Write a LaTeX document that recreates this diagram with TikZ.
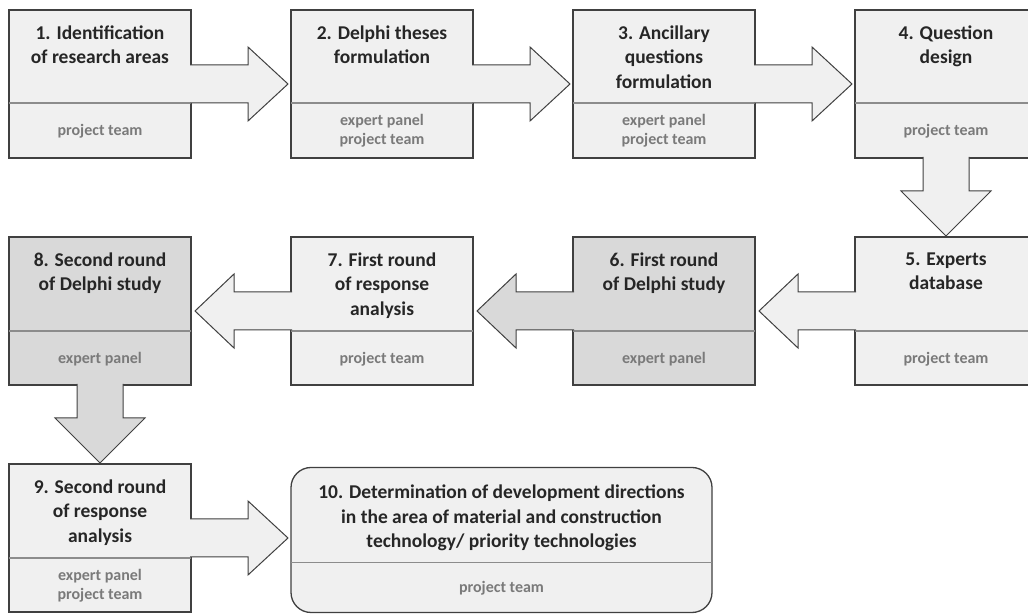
\documentclass[tikz,border=0pt]{standalone}
\usepackage{fontspec}
\setmainfont{Carlito}
\usetikzlibrary{positioning, calc}
\definecolor{stagelight}{HTML}{F0F0F0}
\definecolor{stagedark}{HTML}{D9D9D9}
\definecolor{edge}{HTML}{404040}
\definecolor{rule}{HTML}{8C8C8C}
\definecolor{teamgray}{HTML}{7A7A7A}

\begin{document}
\begin{tikzpicture}[x=1pt, y=1pt,
  stage/.style={rectangle, draw=edge, line width=1.3pt, fill=stagelight, minimum width=182pt, minimum height=148pt, inner sep=0pt, outer sep=0pt},
  darkstage/.style={stage, fill=stagedark},
  title/.style={anchor=north, align=center, font=\fontsize{19.5}{24.5}\selectfont\bfseries, text=black!85, inner sep=0pt, execute at begin node={\rule{0pt}{14pt}}},
  team/.style={align=center, font=\fontsize{16}{19}\selectfont\bfseries, text=teamgray, inner sep=0pt},
  split/.style={draw=rule, line width=1.3pt},
  flow/.style={fill=stagelight, draw=edge, line width=1pt, line join=miter},
  darkflow/.style={flow, fill=stagedark},
  node distance=79pt and 100pt]

\useasboundingbox (0,0) rectangle (1028,615);
\clip (0,0) rectangle (1028,615);

% Stages
\node[stage] (s1) at (100,531) {};
\node[stage, right=of s1] (s2) {};
\node[stage, right=of s2] (s3) {};
\node[stage, right=of s3] (s4) {};
\node[stage, below=of s4] (s5) {};
\node[darkstage, left=of s5] (s6) {};
\node[stage, left=of s6] (s7) {};
\node[darkstage, left=of s7] (s8) {};
\node[stage, below=of s8] (s9) {};
\node[stage, rounded corners=20pt, minimum width=421pt, minimum height=145pt, right=of s9, yshift=-2pt] (s10) {};

% Dividers
\draw[split] ([yshift=-93pt]s1.north west) -- ([yshift=-93pt]s1.north east);
\draw[split] ([yshift=-93pt]s2.north west) -- ([yshift=-93pt]s2.north east);
\draw[split] ([yshift=-93pt]s3.north west) -- ([yshift=-93pt]s3.north east);
\draw[split] ([yshift=-93pt]s4.north west) -- ([yshift=-93pt]s4.north east);
\draw[split] ([yshift=-94pt]s5.north west) -- ([yshift=-94pt]s5.north east);
\draw[split] ([yshift=-94pt]s6.north west) -- ([yshift=-94pt]s6.north east);
\draw[split] ([yshift=-94pt]s7.north west) -- ([yshift=-94pt]s7.north east);
\draw[split] ([yshift=-94pt]s8.north west) -- ([yshift=-94pt]s8.north east);
\draw[split] ([yshift=-94pt]s9.north west) -- ([yshift=-94pt]s9.north east);
\draw[split] ([yshift=-95pt]s10.north west) -- ([yshift=-95pt]s10.north east);

% Titles
\node[title] (t1) at ([yshift=-15.5pt]s1.north) {1. Identification\\of research areas};
\node[title] (t2) at ([yshift=-15.5pt]s2.north) {2. Delphi theses\\formulation};
\node[title] (t3) at ([yshift=-15.5pt]s3.north) {3. Ancillary\\questions\\formulation};
\node[title] (t4) at ([yshift=-15.5pt]s4.north) {4. Question\\design};
\node[title] (t5) at ([yshift=-15.5pt]s5.north) {5. Experts\\database};
\node[title] (t6) at ([yshift=-15.5pt]s6.north) {6. First round\\of Delphi study};
\node[title] (t7) at ([yshift=-15.5pt]s7.north) {7. First round\\of response\\analysis};
\node[title] (t8) at ([yshift=-15.5pt]s8.north) {8. Second round\\of Delphi study};
\node[title] (t9) at ([yshift=-15.5pt]s9.north) {9. Second round\\of response\\analysis};
\node[title] (t10) at ([yshift=-17.5pt]s10.north) {10. Determination of development directions\\in the area of material and construction\\technology/ priority technologies};

% Teams
\node[team] (p1) at ([yshift=27pt]s1.south) {project team};
\node[team] (p2) at ([yshift=27pt]s2.south) {expert panel\\project team};
\node[team] (p3) at ([yshift=27pt]s3.south) {expert panel\\project team};
\node[team] (p4) at ([yshift=27pt]s4.south) {project team};
\node[team] (p5) at ([yshift=26pt]s5.south) {project team};
\node[team] (p6) at ([yshift=26pt]s6.south) {expert panel};
\node[team] (p7) at ([yshift=26pt]s7.south) {project team};
\node[team] (p8) at ([yshift=26pt]s8.south) {expert panel};
\node[team] (p9) at ([yshift=26pt]s9.south) {expert panel\\project team};
\node[team] (p10) at ([yshift=24pt]s10.south) {project team};

% Block arrows, first row
\draw[flow] ($(s1.east)+(-1,19)$) -- ($(s2.west)+(-43,19)$) -- ++(0,18) -- ($(s2.west)+(-3,0)$) -- ++(-40,-37) -- ++(0,18) -- ($(s1.east)+(-1,-19)$);
\draw[flow] ($(s2.east)+(-1,19)$) -- ($(s3.west)+(-43,19)$) -- ++(0,18) -- ($(s3.west)+(-3,0)$) -- ++(-40,-37) -- ++(0,18) -- ($(s2.east)+(-1,-19)$);
\draw[flow] ($(s3.east)+(-1,19)$) -- ($(s4.west)+(-43,19)$) -- ++(0,18) -- ($(s4.west)+(-3,0)$) -- ++(-40,-37) -- ++(0,18) -- ($(s3.east)+(-1,-19)$);
\draw[flow] ($(s4.south)+(-23,1)$) -- ($(s5.north)+(-23,46)$) -- ++(-22,0) -- ($(s5.north)+(0,1)$) -- ++(45,45) -- ++(-22,0) -- ($(s4.south)+(23,1)$);

% Block arrows, second row
\draw[flow] ($(s5.west)+(1,19)$) -- ($(s6.east)+(43,19)$) -- ++(0,18) -- ($(s6.east)+(4,0)$) -- ++(39,-37) -- ++(0,18) -- ($(s5.west)+(1,-19)$);
\draw[darkflow] ($(s6.west)+(1,19)$) -- ($(s7.east)+(43,19)$) -- ++(0,18) -- ($(s7.east)+(4,0)$) -- ++(39,-37) -- ++(0,18) -- ($(s6.west)+(1,-19)$);
\draw[flow] ($(s7.west)+(1,19)$) -- ($(s8.east)+(43,19)$) -- ++(0,18) -- ($(s8.east)+(4,0)$) -- ++(39,-37) -- ++(0,18) -- ($(s7.west)+(1,-19)$);
\draw[darkflow] ($(s8.south)+(-23,1)$) -- ($(s9.north)+(-23,46)$) -- ++(-22,0) -- ($(s9.north)+(0,1)$) -- ++(45,45) -- ++(-22,0) -- ($(s8.south)+(23,1)$);

% Block arrow, last row
\draw[flow] ($(s9.east)+(-1,19)$) -- ($(s10.west |- s9.east)+(-43,19)$) -- ++(0,18) -- ($(s10.west |- s9.east)+(-3,0)$) -- ++(-40,-37) -- ++(0,18) -- ($(s9.east)+(-1,-19)$);

\end{tikzpicture}
\end{document}
